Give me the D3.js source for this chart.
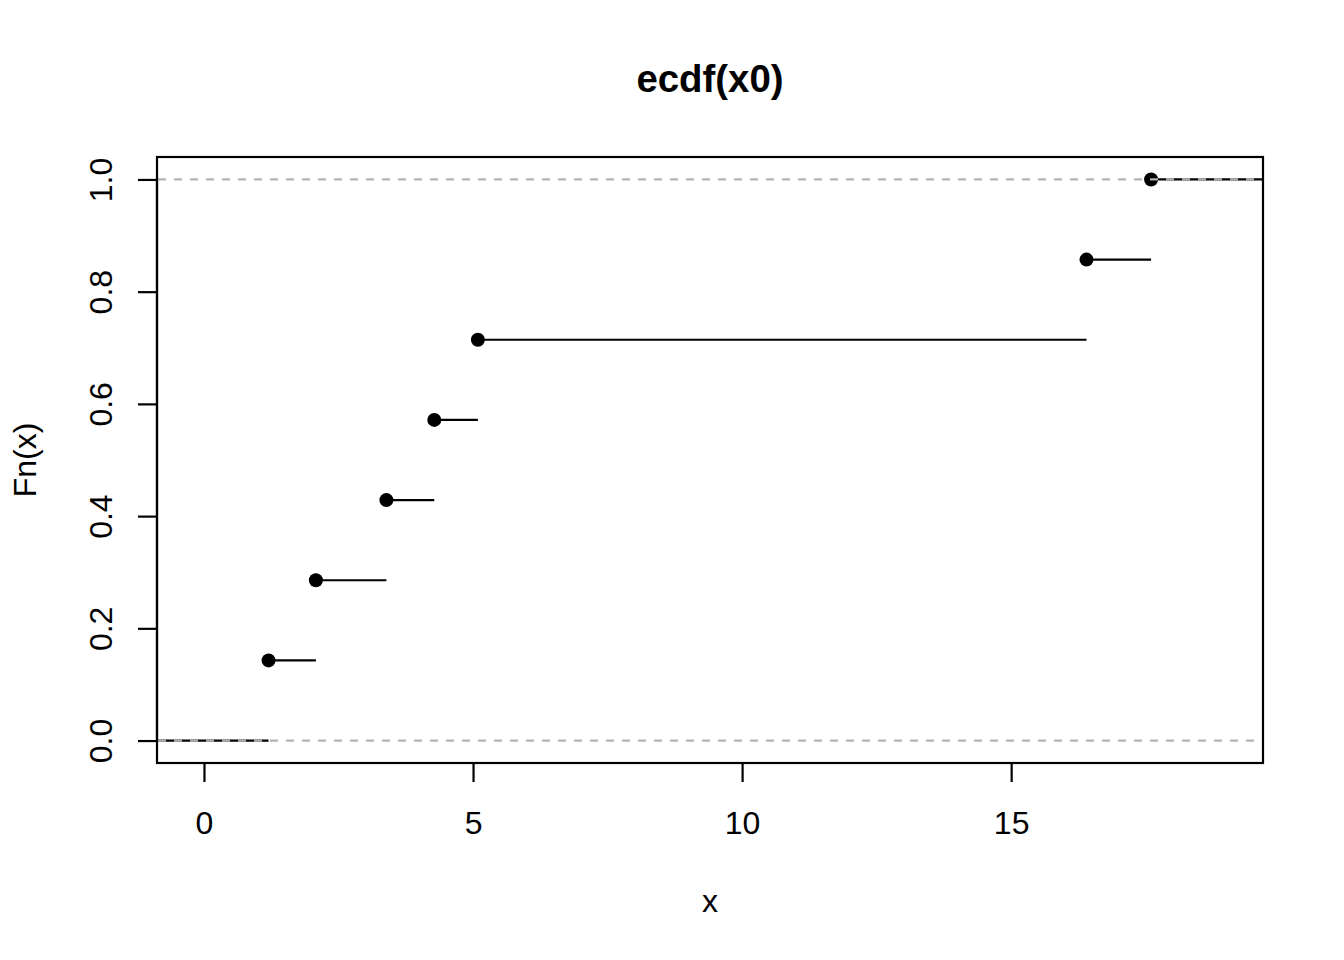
<!DOCTYPE html>
<html><head><meta charset="utf-8">
<script src="https://cdn.jsdelivr.net/npm/d3@7"></script>
<style>body{margin:0;background:#fff}svg{display:block}text{font-family:"Liberation Sans",Arial,sans-serif;fill:#000}</style>
</head><body>
<script>
const knots = [1.2, 2.08, 3.39, 4.28, 5.09, 16.4, 17.6];
const fnValues = [1/7, 2/7, 3/7, 4/7, 5/7, 6/7, 1];
const xTicks = [0, 5, 10, 15];
const yTicks = [0, 0.2, 0.4, 0.6, 0.8, 1.0];
const hLines = [0, 1];
const xDomain = [-0.873, 19.68];
const yDomain = [-0.04, 1.04];

const W = 1344, H = 960;
const L = 157, R = 1263, T = 157, B = 763;
const svg = d3.select("body").append("svg").attr("width", W).attr("height", H);
const x = d3.scaleLinear().domain(xDomain).range([L, R]);
const y = d3.scaleLinear().domain(yDomain).range([B, T]);

svg.append("defs").append("clipPath").attr("id","clip")
  .append("rect").attr("x", L).attr("y", T).attr("width", R-L).attr("height", B-T);
const g = svg.append("g").attr("clip-path","url(#clip)");

// step segments
const segs = [];
segs.push({x0: xDomain[0] - 5, x1: knots[0], v: 0});
knots.forEach((k,i) => segs.push({x0: k, x1: i < knots.length-1 ? knots[i+1] : xDomain[1] + 5, v: fnValues[i]}));
g.selectAll("line.seg").data(segs).join("line").attr("class","seg")
  .attr("x1", d => x(d.x0)).attr("x2", d => x(d.x1))
  .attr("y1", d => y(d.v)).attr("y2", d => y(d.v))
  .attr("stroke","#000").attr("stroke-width",2.2);

// points
g.selectAll("circle").data(knots).join("circle")
  .attr("cx", d => x(d)).attr("cy", (d,i) => y(fnValues[i])).attr("r", 7).attr("fill","#000");

// reference lines
g.selectAll("line.h").data(hLines).join("line").attr("class","h")
  .attr("x1", L + 1).attr("x2", R).attr("y1", d => y(d)).attr("y2", d => y(d))
  .attr("stroke","#b3b3b3").attr("stroke-width",2.2).attr("stroke-dasharray","8,8");

// box
svg.append("rect").attr("x", L).attr("y", T).attr("width", R-L).attr("height", B-T)
  .attr("fill","none").attr("stroke","#000").attr("stroke-width",2.2);

// x axis
const xa = svg.append("g").attr("transform", `translate(0,${B})`)
  .call(d3.axisBottom(x).tickValues(xTicks).tickSize(19).tickPadding(0).tickFormat(d3.format("d")));
xa.select(".domain").attr("stroke","#000").attr("stroke-width",2.2).attr("d", `M${x(xTicks[0])},0H${x(xTicks[xTicks.length-1])}`);
xa.selectAll(".tick line").attr("stroke","#000").attr("stroke-width",2.2);
xa.selectAll(".tick text").attr("font-size", 32).attr("font-family","Liberation Sans, Arial, sans-serif")
  .attr("dy", null).attr("y", 71);

// y axis
const ya = svg.append("g").attr("transform", `translate(${L},0)`)
  .call(d3.axisLeft(y).tickValues(yTicks).tickSize(19).tickPadding(0).tickFormat(d3.format(".1f")));
ya.select(".domain").attr("stroke","#000").attr("stroke-width",2.2).attr("d", `M0,${y(yTicks[0])}V${y(yTicks[yTicks.length-1])}`);
ya.selectAll(".tick line").attr("stroke","#000").attr("stroke-width",2.2);
ya.selectAll(".tick text").attr("font-size", 32).attr("font-family","Liberation Sans, Arial, sans-serif")
  .attr("x", null).attr("dy", null).attr("text-anchor","middle")
  .attr("transform", "translate(-45,0) rotate(-90)");

// title and labels
svg.append("text").attr("x", 710).attr("y", 92).attr("text-anchor","middle")
  .attr("font-size", 38.4).attr("font-weight","bold").text("ecdf(x0)");
svg.append("text").attr("x", 710).attr("y", 912).attr("text-anchor","middle")
  .attr("font-size", 32).text("x");
svg.append("text").attr("transform", `translate(36,${(T+B)/2}) rotate(-90)`).attr("text-anchor","middle")
  .attr("font-size", 32).text("Fn(x)");
</script>
</body></html>
